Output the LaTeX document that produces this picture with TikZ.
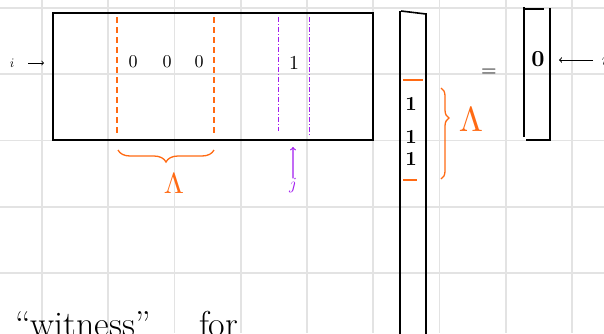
\documentclass[tikz,border=0pt]{standalone}
\usetikzlibrary{decorations.pathreplacing}
\definecolor{penorange}{HTML}{FF6A13}
\definecolor{penpurple}{HTML}{A21CF0}
\definecolor{gridgray}{HTML}{E3E3E3}
\tikzset{
  ink/.style={black, line width=1.6pt},
  orangedash/.style={penorange, line width=1.3pt, dash pattern=on 6pt off 4pt},
  purpledash/.style={penpurple, line width=1pt, dash pattern=on 5pt off 2pt on 1pt off 2pt},
  entry/.style={inner sep=0pt, scale=1.8},
  bigentry/.style={inner sep=0pt, scale=2, font=\bfseries},
  lamlabel/.style={inner sep=0pt, penorange, scale=2.9},
}
\begin{document}
\begin{tikzpicture}[x=1pt,y=-1pt]
\useasboundingbox (0,0) rectangle (604,333);
\clip (0,0) rectangle (604,333);
\fill[white] (0,0) rectangle (604,333);
% grid paper
\foreach \k in {0,...,8} \draw[gridgray, line width=1.6pt] (42+66.25*\k,0) -- (42+66.25*\k,333);
\foreach \k in {0,...,4} \draw[gridgray, line width=1.6pt] (0,8+66.25*\k) -- (604,8+66.25*\k);

% matrix
\draw[ink] (53,13) rectangle (373,140);
\node[inner sep=0pt, scale=1.3] (rowi) at (12,63) {$i$};
\coordinate (rowin) at (44,63);
\draw[->, line width=0.8pt] (28,63) -- (rowin);
\draw[orangedash] (117,17) -- (117,134);
\draw[orangedash] (214,17) -- (214,135);
\node[entry] (zeroa) at (133,62) {0};
\node[entry] (zerob) at (167,62) {0};
\node[entry] (zeroc) at (199,62) {0};
\draw[purpledash] (278,17) -- (278,131);
\draw[purpledash] (309,17) -- (309,136);
\node[entry, scale=1.1] (onem) at (294,63) {1};

\draw[penorange, line width=1.3pt, decorate, decoration={brace, mirror, amplitude=12pt}] (118,150) -- (214,150);
\node[lamlabel] (lamcol) at (174,184) {$\Lambda$};
\node[inner sep=0pt, penpurple, scale=1.7] (jcol) at (293,186) {$j$};
\coordinate (jtip) at (293,147);
\draw[->, penpurple, line width=1.2pt] (jcol) -- (jtip);

% vector
\draw[ink, line width=1.8pt] (400,11) -- (400,340);
\draw[ink, line width=1.8pt] (426,13) -- (426,340);
\draw[ink] (401,11) -- (426,14);
\draw[penorange, line width=1.3pt] (403,80) -- (423,80);
\draw[penorange, line width=1.3pt] (403,180) -- (417,180);
\node[bigentry] (onea) at (411,104) {1};
\node[bigentry] (oneb) at (411,137) {1};
\node[bigentry] (onec) at (411,159) {1};
\draw[penorange, line width=1.3pt, decorate, decoration={brace, amplitude=8pt, aspect=0.33}] (441,88) -- (441,179);
\node[lamlabel, scale=1.2] (lamrow) at (471,120) {$\Lambda$};

\node[inner sep=0pt, scale=2] (eqsign) at (489,73) {$=$};

% result
\draw[ink, line width=1.8pt] (524,7) -- (524,137);
\draw[ink, line width=1.8pt] (550,8) -- (550,140);
\draw[ink] (524,9) -- (544,9);
\draw[ink] (526,140) -- (551,140);
\node[bigentry, scale=1.15] (zeror) at (538,59) {0};
\node[inner sep=0pt, scale=1.8] (rowir) at (605,60) {$i$};
\coordinate (rowout) at (559,60);
\draw[->, line width=1pt] (593,60) -- (rowout);

\node[anchor=base west, inner sep=0pt, font=\fontsize{36}{40}\selectfont] (witness) at (15,336) {``witness''\hspace{48pt}for};
\end{tikzpicture}
\end{document}
